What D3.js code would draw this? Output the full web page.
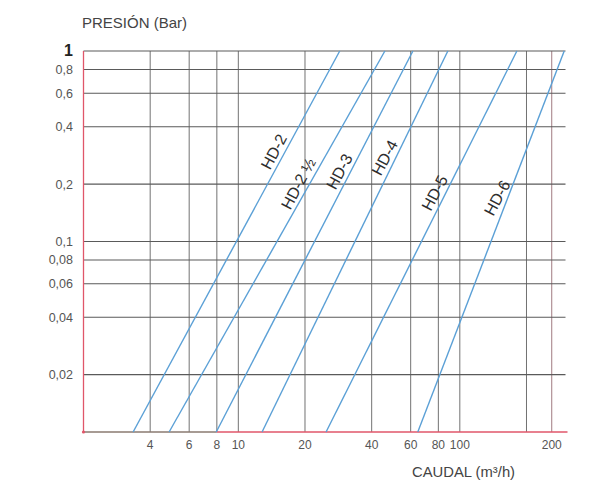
<!DOCTYPE html>
<html>
<head>
<meta charset="utf-8">
<script src="https://cdn.jsdelivr.net/npm/d3@7"></script>
<style>
  html, body { margin: 0; padding: 0; background: #fff; }
  svg text { font-family: "Liberation Sans", Arial, sans-serif; }
</style>
</head>
<body>
<svg id="chart" width="596" height="483"></svg>
<script>
/* ================================
   DATA
================================ */

// pressure (bar) ticks on the y axis
const yTickValues = [1, 0.8, 0.6, 0.4, 0.2, 0.1, 0.08, 0.06, 0.04, 0.02];
const yTickLabels = ["1", "0,8", "0,6", "0,4", "0,2", "0,1", "0,08", "0,06", "0,04", "0,02"];

// flow (m3/h) grid lines and labels, as drawn in the original sheet
const xGridValues = [4, 6, 8, 10, 20, 40, 60, 80, 100, 200, 260];
const xTickValues = [4, 6, 8, 10, 20, 40, 60, 80, 100, 260];
const xTickLabels = ["4", "6", "8", "10", "20", "40", "60", "80", "100", "200"];

// one straight line per model (log-log), flow at the two end pressures
const models     = ["HD-2", "HD-2 ½", "HD-3", "HD-4", "HD-5", "HD-6"];
const endPress   = [0.01, 1];
const flowAtLow  = [3.35, 4.87, 7.95, 12.8, 24.9, 64.6];   // at 0.01 bar
const flowAtHigh = [28.7, 45.9, 61.4, 88.3, 181, 296];     // at 1 bar
const labelPress = [0.28, 0.19, 0.22, 0.26, 0.17, 0.16];   // where the name sits


/* ================================
   SCALES
================================ */

const svg = d3.select("#chart");

const x = d3.scaleLog().domain([2, 300]).range([83.5, 565.5]);
const y = d3.scaleLog().domain([0.01, 1]).range([432, 51]);

const gridColor = "#5a5a5a";
const axisRed = "#e0566a";
const lineBlue = "#5ba0d6";


/* ================================
   GRID
================================ */

// vertical lines
svg.append("g")
  .selectAll("line")
  .data(xGridValues)
  .join("line")
  .attr("x1", d => x(d))
  .attr("x2", d => x(d))
  .attr("y1", y(0.01))
  .attr("y2", y(1))
  .attr("stroke", (d, i) => i === xGridValues.length - 1 ? "#a07a80" : "#727272")
  .attr("stroke-width", 1);

// horizontal lines
svg.append("g")
  .selectAll("line")
  .data(yTickValues)
  .join("line")
  .attr("x1", x(2))
  .attr("x2", x(300))
  .attr("y1", d => y(d))
  .attr("y2", d => y(d))
  .attr("stroke", gridColor)
  .attr("stroke-width", 1.1);

// bottom line: grey first, then red
svg.append("line")
  .attr("x1", x(2)).attr("x2", x(8))
  .attr("y1", y(0.01)).attr("y2", y(0.01))
  .attr("stroke", "#8a7a70").attr("stroke-width", 1.3);

svg.append("line")
  .attr("x1", x(8)).attr("x2", x(300) + 2)
  .attr("y1", y(0.01)).attr("y2", y(0.01))
  .attr("stroke", axisRed).attr("stroke-width", 1.4);

// left red axis
svg.append("line")
  .attr("x1", x(2)).attr("x2", x(2))
  .attr("y1", y(1)).attr("y2", y(0.01))
  .attr("stroke", axisRed).attr("stroke-width", 1.3);

svg.append("circle")
  .attr("cx", x(2)).attr("cy", y(0.01))
  .attr("r", 1.6).attr("fill", axisRed);


/* ================================
   MODEL LINES
================================ */

const lineGen = d3.line()
  .x(d => x(d[0]))
  .y(d => y(d[1]));

models.forEach((name, i) => {
  const pts = [[flowAtLow[i], endPress[0]], [flowAtHigh[i], endPress[1]]];

  svg.append("path")
    .attr("d", lineGen(pts))
    .attr("fill", "none")
    .attr("stroke", lineBlue)
    .attr("stroke-width", 1.4);

  // point on the line at the label pressure (log-log interpolation)
  const t = Math.log(labelPress[i] / endPress[0]) / Math.log(endPress[1] / endPress[0]);
  const q = Math.exp(Math.log(flowAtLow[i]) + t * Math.log(flowAtHigh[i] / flowAtLow[i]));

  svg.append("text")
    .attr("transform", `translate(${x(q)},${y(labelPress[i])}) rotate(-62)`)
    .attr("x", 0)
    .attr("y", -10)
    .attr("dy", "0.35em")
    .attr("text-anchor", "middle")
    .style("font-size", "16px")
    .style("fill", "#2e2e2e")
    .text(name);
});


/* ================================
   TICK LABELS
================================ */

svg.append("g")
  .selectAll("text")
  .data(yTickValues)
  .join("text")
  .attr("x", 73)
  .attr("y", d => y(d))
  .attr("dy", (d, i) => i === 0 ? "0.3em" : "0.36em")
  .attr("text-anchor", "end")
  .style("font-size", (d, i) => i === 0 ? "16px" : "12.5px")
  .style("font-weight", (d, i) => i === 0 ? "bold" : "normal")
  .style("fill", (d, i) => i === 0 ? "#222" : "#555")
  .text((d, i) => yTickLabels[i]);

svg.append("g")
  .selectAll("text")
  .data(xTickValues)
  .join("text")
  .attr("x", d => x(d))
  .attr("y", 449)
  .attr("text-anchor", "middle")
  .style("font-size", "12px")
  .style("fill", "#555")
  .text((d, i) => xTickLabels[i]);


/* ================================
   AXIS TITLES
================================ */

svg.append("text")
  .attr("x", 82)
  .attr("y", 28)
  .style("font-size", "15px")
  .style("fill", "#444")
  .text("PRESIÓN (Bar)");

svg.append("text")
  .attr("x", 412)
  .attr("y", 477)
  .style("font-size", "14.8px")
  .style("fill", "#444")
  .text("CAUDAL (m³/h)");
</script>
</body>
</html>
